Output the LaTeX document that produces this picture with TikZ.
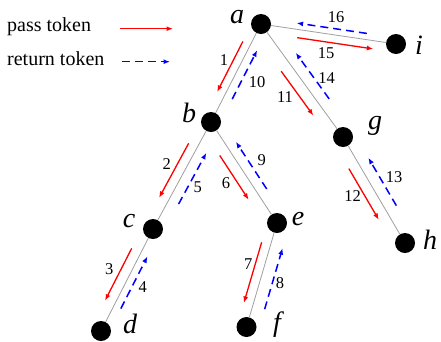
\documentclass[tikz,border=0pt]{standalone}
\usepackage{fontspec}
\setmainfont{Liberation Serif}
\usetikzlibrary{calc,arrows.meta}
\tikzset{
 dot/.style={circle,fill=black,inner sep=0pt,minimum size=20pt},
 edge/.style={draw=gray!75,line width=0.8pt},
 pass/.style={draw=red,line width=1.3pt,-{Latex[length=6.5pt,width=5pt]}},
 ret/.style={draw=blue,line width=1.5pt,dash pattern=on 8pt off 5pt,-{Latex[length=6.5pt,width=5pt]}},
 num/.style={font=\fontsize{16.5}{16.5}\selectfont,inner sep=0pt},
 lab/.style={font=\fontsize{28}{28}\selectfont\itshape,inner sep=0pt},
 legend/.style={font=\fontsize{20}{20}\selectfont,inner sep=0pt,anchor=west},
}
\newcommand{\tok}[6]{\draw[#1] ($(#2)!#4!(#3)!#6pt!90:(#3)$) -- ($(#2)!#5!(#3)!#6pt!90:(#3)$);}
\begin{document}
\begin{tikzpicture}[x=1pt,y=-1pt]
\useasboundingbox (0,0) rectangle (441,341);
% nodes
\node[dot] (a) at (261,24) {};
\node[dot] (b) at (211,122) {};
\node[dot] (c) at (153,229) {};
\node[dot] (d) at (101,331) {};
\node[dot] (e) at (277,223) {};
\node[dot] (f) at (246.5,327) {};
\node[dot] (g) at (343,137) {};
\node[dot] (h) at (405,243) {};
\node[dot] (i) at (396,44) {};
% edges
\draw[edge] (a) -- (b);
\draw[edge] (b) -- (c);
\draw[edge] (c) -- (d);
\draw[edge] (b) -- (e);
\draw[edge] (e) -- (f);
\draw[edge] (a) -- (g);
\draw[edge] (g) -- (h);
\draw[edge] (a) -- (i);
% node labels
\node[lab] (la) at (237,17) {a};
\node[lab] (lb) at (189,113) {b};
\node[lab] (lc) at (129,221) {c};
\node[lab] (ld) at (130,324) {d};
\node[lab] (le) at (298,219) {e};
\node[lab] (lf) at (277,325) {f};
\node[lab] (lg) at (375,126) {g};
\node[lab] (lh) at (430,240) {h};
\node[lab] (li) at (419,45) {i};
% token arrows
\tok{pass}{a}{b}{0.216}{0.731}{-8.2}
\tok{ret}{a}{b}{0.727}{0.228}{8.5}
\tok{pass}{b}{c}{0.241}{0.751}{-9.5}
\tok{ret}{b}{c}{0.72}{0.241}{10.6}
\tok{pass}{c}{d}{0.235}{0.748}{-10.2}
\tok{ret}{c}{d}{0.747}{0.235}{7.5}
\tok{pass}{b}{e}{0.272}{0.71}{-11}
\tok{ret}{b}{e}{0.717}{0.25}{10}
\tok{pass}{e}{f}{0.211}{0.794}{-9.3}
\tok{ret}{e}{f}{0.795}{0.208}{12.4}
\tok{pass}{a}{g}{0.358}{0.751}{-11.4}
\tok{ret}{a}{g}{0.721}{0.313}{11.2}
\tok{pass}{g}{h}{0.246}{0.729}{-10.9}
\tok{ret}{g}{h}{0.702}{0.25}{11.4}
\tok{pass}{a}{i}{0.277}{0.841}{-8.2}
\tok{ret}{a}{i}{0.777}{0.257}{6.2}
% numbers
\node[num] (n1) at (224,60) {1};
\node[num] (n10) at (257,82) {10};
\node[num] (n2) at (166.7,164) {2};
\node[num] (n5) at (197.7,187.3) {5};
\node[num] (n3) at (109.3,269.3) {3};
\node[num] (n4) at (142.7,287.3) {4};
\node[num] (n6) at (226,182.7) {6};
\node[num] (n9) at (261.7,160) {9};
\node[num] (n7) at (248.3,264) {7};
\node[num] (n8) at (280,283.3) {8};
\node[num] (n11) at (285,96.7) {11};
\node[num] (n14) at (326.7,78) {14};
\node[num] (n12) at (352.7,196) {12};
\node[num] (n13) at (394,177.3) {13};
\node[num] (n15) at (326,53) {15};
\node[num] (n16) at (336,17) {16};
% legend
\node[legend] (lp) at (7,27) {pass token};
\node[legend] (lr) at (7,59) {return token};
\coordinate (p1) at (120,28.7);
\coordinate (p2) at (173,28.7);
\coordinate (r1) at (121.7,61.7);
\coordinate (r2) at (170,61.7);
\draw[pass] (p1) -- (p2);
\draw[ret] (r1) -- (r2);
\end{tikzpicture}
\end{document}
